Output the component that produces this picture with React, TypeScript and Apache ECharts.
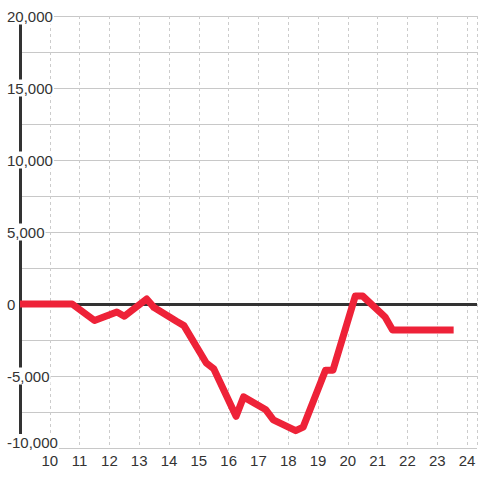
import React, { useEffect, useRef } from "react";
import * as echarts from "echarts";

const HOURS = [9, 10.75, 11.5, 12.25, 12.5, 13.25, 13.5, 14.25, 14.5, 15.25, 15.5, 16.25, 16.5, 17.25, 17.5, 18.25, 18.5, 19.25, 19.5, 20.25, 20.5, 21.25, 21.5, 23.55];
const VALUES = [0, 0, -1150, -550, -850, 350, -250, -1200, -1500, -4100, -4500, -7800, -6450, -7350, -8050, -8800, -8550, -4600, -4600, 550, 550, -900, -1800, -1800];

const X_MIN = 9;
const X_MAX = 24.3333;
const X_STEP = 1;
const X_FIRST_LABEL = 10;
const Y_MIN = -10000;
const Y_MAX = 20000;
const Y_STEP = 2500;
const Y_LABEL_STEP = 5000;

const FONT = "'Liberation Sans', Arial, sans-serif";

export default function App() {
  const ref = useRef<HTMLDivElement>(null);
  useEffect(() => {
    document.body.style.margin = "0";
    const chart = echarts.init(ref.current!, null, { renderer: "svg" });
    const fmtY = (v: number) => {
      if (v % Y_LABEL_STEP !== 0) return "";
      const s = v.toLocaleString("en-US");
      return v === Y_MIN ? "{a|" + s + "}\n{gap|}" : "{a|" + s + "}";
    };
    const labelStyle = { color: "#333", fontSize: 15, fontFamily: FONT };
    chart.setOption({
      animation: false,
      backgroundColor: "#ffffff",
      grid: { left: 20, right: 0, top: 16, bottom: 32, containLabel: false },
      xAxis: {
        type: "value",
        min: X_MIN,
        max: X_MAX,
        interval: X_STEP,
        axisLine: { show: false },
        axisTick: { show: false },
        axisLabel: {
          ...labelStyle,
          margin: 5,
          formatter: (v: number) => (Number.isInteger(v) && v >= X_FIRST_LABEL ? String(v) : ""),
        },
        splitLine: { show: true, lineStyle: { color: "#cccccc", width: 1, type: [3, 3] } },
      },
      yAxis: [
        {
          type: "value",
          position: "left",
          min: Y_MIN,
          max: Y_MAX,
          interval: Y_STEP,
          axisLine: { show: true, lineStyle: { color: "#333", width: 3 } },
          axisTick: { show: false },
          axisLabel: { show: false },
          splitLine: { show: true, lineStyle: { color: "#c8c8c8", width: 1 } },
        },
        {
          type: "value",
          position: "left",
          min: Y_MIN,
          max: Y_MAX,
          interval: Y_STEP,
          z: 10,
          axisLine: { show: false },
          axisTick: { show: false },
          splitLine: { show: false },
          axisLabel: {
            ...labelStyle,
            align: "left",
            margin: 14,
            formatter: fmtY,
            rich: {
              a: { ...labelStyle, backgroundColor: "#ffffff", padding: [1, 1], lineHeight: 17 },
              gap: { height: 11, lineHeight: 11 },
            },
          },
        },
      ],
      series: [
        {
          type: "line",
          yAxisIndex: 0,
          data: HOURS.map((h, i) => [h, VALUES[i]]),
          showSymbol: false,
          lineStyle: { color: "#ee2238", width: 7, join: "round" },
          z: 3,
          markLine: {
            z: 1,
            silent: true,
            symbol: ["none", "none"],
            label: { show: false },
            lineStyle: { color: "#333", width: 3, type: "solid" },
            data: [{ yAxis: 0 }],
          },
        },
      ],
    });
    return () => chart.dispose();
  }, []);
  return <div ref={ref} style={{ width: 480, height: 480 }} />;
}
